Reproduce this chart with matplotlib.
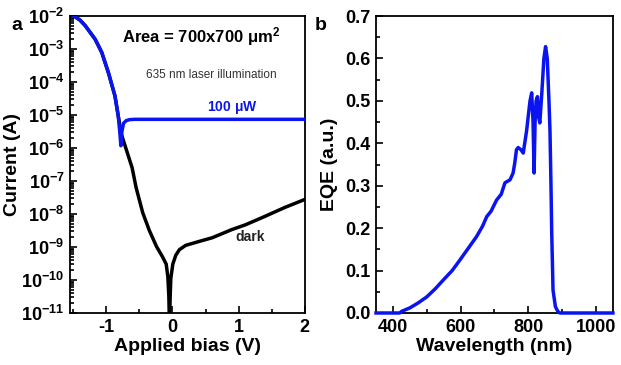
import numpy as np
import matplotlib
matplotlib.use('Agg')
import matplotlib.pyplot as plt
import matplotlib.ticker as ticker

plt.rcParams['font.family'] = ['Liberation Sans', 'DejaVu Sans']
plt.rcParams['font.weight'] = 'bold'
plt.rcParams['axes.unicode_minus'] = False
plt.rcParams['mathtext.fontset'] = 'custom'
plt.rcParams['mathtext.rm'] = 'Liberation Sans:bold'
plt.rcParams['mathtext.bf'] = 'Liberation Sans:bold'
plt.rcParams['mathtext.it'] = 'Liberation Sans:bold'

# panel a: I-V curves, current given as log10(I / A)
v_dark = [-1.55, -1.49, -1.40, -1.32, -1.17, -1.07, -0.97, -0.87, -0.82,
          -0.77, -0.69, -0.61, -0.55, -0.45, -0.35, -0.24, -0.15, -0.095,
          -0.07, -0.055, -0.045, -0.035, -0.025, 0.005, 0.05, 0.105, 0.2,
          0.405, 0.6, 0.9, 1.1, 1.4, 1.7, 2.0]
logi_dark = [-1.9, -2.0, -2.12, -2.29, -2.7, -3.1, -3.71, -4.42, -5.03,
             -5.6, -6.1, -6.6, -7.2, -7.96, -8.5, -8.99, -9.3, -9.52,
             -9.9, -10.5, -11.4, -10.5, -9.95, -9.52, -9.25, -9.08, -8.95,
             -8.83, -8.72, -8.47, -8.33, -8.07, -7.8, -7.56]
v_light = [-1.55, -1.49, -1.40, -1.32, -1.17, -1.07, -0.97, -0.87, -0.82,
           -0.80, -0.78, -0.765, -0.74, -0.70, -0.65, -0.57, 0.0, 1.0, 2.0]
logi_light = [-1.9, -2.0, -2.12, -2.29, -2.7, -3.1, -3.71, -4.42, -5.03,
              -5.45, -5.93, -5.5, -5.25, -5.17, -5.14, -5.13, -5.13, -5.13,
              -5.13]

# panel b: EQE spectrum
wl = [350, 420, 426, 450, 475, 500, 525, 549, 575, 598, 622, 647, 665, 677,
      690, 706, 720, 731, 746, 755, 760, 765, 770, 778, 785, 795, 805, 810,
      814, 817, 820, 823, 827, 831, 834, 840, 846, 851, 856, 861, 864, 867,
      869, 873, 880, 887, 893, 1050]
eqe = [0.0, 0.0, 0.004, 0.012, 0.024, 0.038, 0.057, 0.078, 0.10, 0.125,
       0.152, 0.18, 0.205, 0.227, 0.24, 0.266, 0.28, 0.307, 0.314, 0.33,
       0.354, 0.385, 0.39, 0.385, 0.377, 0.43, 0.50, 0.519, 0.45, 0.33,
       0.45, 0.50, 0.51, 0.46, 0.448, 0.52, 0.60, 0.628, 0.60, 0.50, 0.43,
       0.30, 0.196, 0.054, 0.015, 0.004, 0.0, 0.0]

blue = '#0a14f0'

fig = plt.figure(figsize=(6.21, 3.65), dpi=100)
ax1 = fig.add_axes([0.1127, 0.1425, 0.378, 0.8135])
ax2 = fig.add_axes([0.6055, 0.1425, 0.3815, 0.8135])

ax1.plot(v_dark, 10.0**np.array(logi_dark), color='black', lw=2.5, zorder=2)
ax1.plot(v_light, 10.0**np.array(logi_light), color=blue, lw=2.5, zorder=3)
ax1.set_yscale('log')
ax1.set_xlim(-1.55, 2.0)
ax1.set_ylim(1e-11, 1e-2)
ax1.yaxis.set_major_locator(ticker.LogLocator(base=10, numticks=20))
ax1.yaxis.set_minor_locator(ticker.LogLocator(base=10, subs=np.arange(2, 10), numticks=20))
ax1.yaxis.set_minor_formatter(ticker.NullFormatter())
ax1.yaxis.set_major_formatter(ticker.FuncFormatter(
    lambda y, pos: r'$\mathbf{10^{%d}}$' % int(round(np.log10(y)))))
ax1.xaxis.set_major_locator(ticker.MultipleLocator(1))
ax1.xaxis.set_minor_locator(ticker.MultipleLocator(0.5))
ax1.set_xlabel('Applied bias (V)', fontsize=14, fontweight='bold', labelpad=2)
ax1.set_ylabel('Current (A)', fontsize=14, fontweight='bold', labelpad=0)

ax1.text(0.56, 0.93, r'Area = 700x700 $\mu$m$^{2}$', transform=ax1.transAxes,
         ha='center', va='center', fontsize=12, fontweight='bold')
ax1.text(0.60, 0.80, '635 nm laser illumination', transform=ax1.transAxes,
         ha='center', va='center', fontsize=8.5, fontweight='normal', color='#333333')
ax1.text(0.69, 0.693, r'100 $\mu$W', transform=ax1.transAxes, ha='center',
         va='center', fontsize=10, fontweight='bold', color=blue)
ax1.text(0.766, 0.256, 'dark', transform=ax1.transAxes, ha='center',
         va='center', fontsize=10, fontweight='bold', color='#222222')

ax2.plot(wl, eqe, color=blue, lw=2.5, clip_on=False, zorder=3)
ax2.set_xlim(350, 1050)
ax2.set_ylim(0, 0.7)
ax2.xaxis.set_major_locator(ticker.MultipleLocator(200))
ax2.xaxis.set_minor_locator(ticker.MultipleLocator(100))
ax2.yaxis.set_major_locator(ticker.MultipleLocator(0.1))
ax2.yaxis.set_minor_locator(ticker.MultipleLocator(0.05))
ax2.yaxis.set_major_formatter(ticker.FormatStrFormatter('%.1f'))
ax2.set_xlabel('Wavelength (nm)', fontsize=14, fontweight='bold', labelpad=2)
ax2.set_ylabel('EQE (a.u.)', fontsize=14, fontweight='bold', labelpad=5)

for ax in (ax1, ax2):
    for s in ax.spines.values():
        s.set_linewidth(1.3)
    ax.tick_params(which='both', direction='in', width=1.2, labelsize=13)
    ax.tick_params(which='major', length=5, pad=4)
    ax.tick_params(which='minor', length=3)
    for lab in ax.get_xticklabels() + ax.get_yticklabels():
        lab.set_fontweight('bold')

fig.text(0.027, 0.93, 'a', fontsize=14, fontweight='bold', ha='center', va='center')
fig.text(0.517, 0.93, 'b', fontsize=14, fontweight='bold', ha='center', va='center')

fig.savefig('out.png', dpi=100)
